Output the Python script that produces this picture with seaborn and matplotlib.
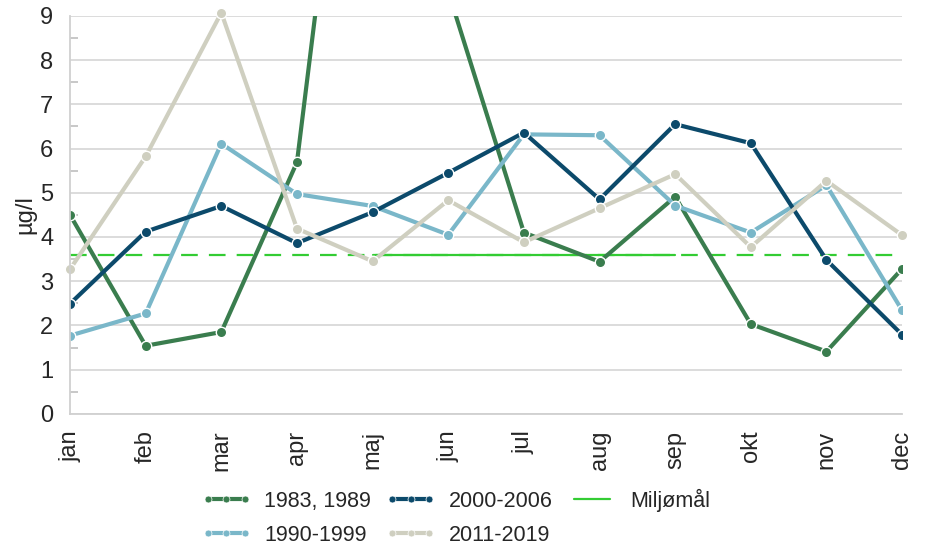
import numpy as np
import pandas as pd
import matplotlib
matplotlib.use("Agg")
import matplotlib.pyplot as plt
from matplotlib.lines import Line2D
import seaborn as sns

months = ["jan", "feb", "mar", "apr", "maj", "jun", "jul", "aug", "sep", "okt", "nov", "dec"]

s_1983 = [4.50, 1.54, 1.85, 5.69, 19.5, 9.55, 4.10, 3.44, 4.91, 2.03, 1.41, 3.28]
s_1990 = [1.77, 2.27, 6.11, 4.97, 4.70, 4.05, 6.32, 6.30, 4.71, 4.10, 5.17, 2.34]
s_2000 = [2.49, 4.12, 4.70, 3.86, 4.56, 5.45, 6.36, 4.85, 6.55, 6.12, 3.48, 1.79]
s_2011 = [3.27, 5.82, 9.07, 4.19, 3.45, 4.83, 3.88, 4.65, 5.42, 3.77, 5.27, 4.04]
miljo = [3.6] * 12
# solid part of the target: maj - sep
miljo_solid = [np.nan] * 4 + [3.6] * 5 + [np.nan] * 3

series = {
    "1983, 1989": (s_1983, "#3a7d4e"),
    "1990-1999": (s_1990, "#7ab7c9"),
    "2000-2006": (s_2000, "#0c4a6b"),
    "2011-2019": (s_2011, "#cfcfc0"),
}

x = np.arange(len(months))

sns.set_style("white")
plt.rcParams["font.family"] = ["Liberation Sans", "DejaVu Sans"]

fig = plt.figure(figsize=(9.3, 5.46), dpi=100)
ax = fig.add_axes([0.0753, 0.242, 0.8947, 0.729])

green = "#33cc33"
sns.lineplot(x=x, y=miljo, ax=ax, color=green, linewidth=1.6)
ax.lines[-1].set_dashes((7.5, 5))
sns.lineplot(x=x, y=miljo_solid, ax=ax, color=green, linewidth=1.6)

handles = {}
for name, (vals, col) in series.items():
    sns.lineplot(x=x, y=vals, ax=ax, color=col, linewidth=3, marker="o",
                 markersize=7.5, markeredgecolor="white", markeredgewidth=1.0)
    handles[name] = ax.lines[-1]
handles["2011-2019"].set_clip_on(False)

ax.set_xlim(0, 11)
ax.set_ylim(0, 9)
ax.set_xticks(x)
ax.set_xticklabels(months, rotation=90, fontsize=17)
ax.set_yticks(range(0, 10))
ax.set_yticks(np.arange(0.5, 9, 1), minor=True)
ax.tick_params(axis="y", which="major", labelsize=17, length=0, pad=12)
ax.tick_params(axis="y", which="minor", direction="in", length=6, color="#bfbfbf", width=1.2, left=True)
ax.tick_params(axis="x", length=0, pad=12)
ax.set_ylabel("µg/l", fontsize=17, labelpad=3)

ax.grid(axis="y", color="#d9d9d9", linewidth=1.3)
ax.set_axisbelow(True)
for side in ["top", "right"]:
    ax.spines[side].set_visible(False)
for side in ["left", "bottom"]:
    ax.spines[side].set_color("#d0d0d0")
    ax.spines[side].set_linewidth(1.3)

leg_handles = []
order = ["1983, 1989", "1990-1999", "2000-2006", "2011-2019"]
for name in order:
    col = series[name][1]
    leg_handles.append(Line2D([], [], color=col, linewidth=3, marker="o", markersize=5,
                              markeredgecolor="white", markeredgewidth=0.5))
leg_handles.append(Line2D([], [], color=green, linewidth=1.6))
labels = order + ["Miljømål"]
fig.legend(leg_handles, labels, loc="lower center", bbox_to_anchor=(0.49, -0.035), ncol=3,
           frameon=False, fontsize=15.5, numpoints=3, handlelength=2.3,
           columnspacing=0.7, handletextpad=0.6, labelspacing=0.6)

fig.savefig("out.png", dpi=100)
